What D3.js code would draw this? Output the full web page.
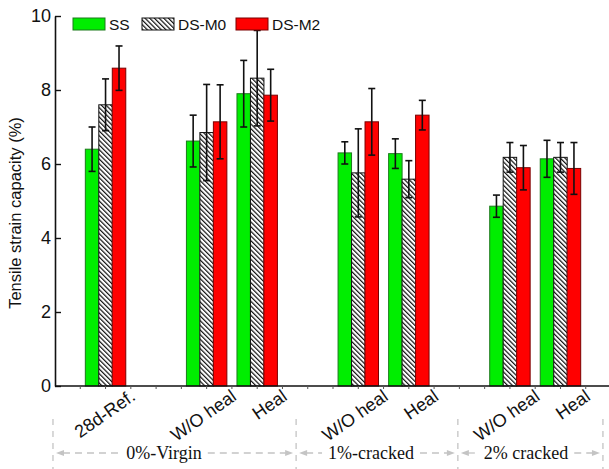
<!DOCTYPE html>
<html lang="en">
<head>
<meta charset="UTF-8">
<script src="https://cdnjs.cloudflare.com/ajax/libs/d3/7.8.5/d3.min.js"></script>
<style>
body { margin: 0; background: white; }
svg { display: block; font-family: "Liberation Sans", Arial, sans-serif; }
</style>
</head>
<body>
<script>
// categories and their slot positions along the x axis
var labels = ["28d-Ref.", "W/O heal", "Heal", "W/O heal", "Heal", "W/O heal", "Heal"];
var slots = [1, 3, 4, 6, 7, 9, 10];
var seriesNames = ["SS", "DS-M0", "DS-M2"];

var ss      = [6.40, 6.62, 7.90, 6.30, 6.28, 4.86, 6.14];
var ssErr   = [0.60, 0.70, 0.90, 0.30, 0.40, 0.30, 0.50];
var dsm0    = [7.60, 6.85, 8.32, 5.76, 5.59, 6.18, 6.18];
var dsm0Err = [0.70, 1.30, 1.29, 1.19, 0.50, 0.40, 0.40];
var dsm2    = [8.59, 7.14, 7.86, 7.14, 7.32, 5.90, 5.88];
var dsm2Err = [0.60, 1.00, 0.70, 0.90, 0.40, 0.60, 0.70];

var groupNames = ["0%-Virgin", "1%-cracked", "2% cracked"];
var yTicks = [0, 2, 4, 6, 8, 10];

var W = 609, H = 469;
var m = {left: 55, right: 609, top: 16, bottom: 386};

var x = d3.scaleLinear().domain([0, 10.96]).range([m.left, m.right]);
var y = d3.scaleLinear().domain([0, 10]).range([m.bottom, m.top]);

var svg = d3.select("body").append("svg")
  .attr("width", W).attr("height", H);

var defs = svg.append("defs");
defs.append("pattern")
  .attr("id", "hatch")
  .attr("patternUnits", "userSpaceOnUse")
  .attr("width", 3.3).attr("height", 3.3)
  .attr("patternTransform", "rotate(-45)")
  .append("rect")
  .attr("x", 0).attr("y", 0).attr("width", 1.2).attr("height", 3.3)
  .attr("fill", "#111");

var fills = ["#00ee00", "url(#hatch)", "#ff0000"];
var strokes = ["#1d7a1d", "#111", "#7a0000"];
var values = [ss, dsm0, dsm2];
var errs = [ssErr, dsm0Err, dsm2Err];

var slotW = x(1) - x(0);
var barW = slotW * 0.8 / 3;

// bars
values.forEach(function(vals, s) {
  var g = svg.append("g");
  g.selectAll("rect.bg")
    .data(vals)
    .enter().append("rect")
    .attr("x", (d, i) => x(slots[i]) - 1.5 * barW + s * barW)
    .attr("y", d => y(d))
    .attr("width", barW)
    .attr("height", d => y(0) - y(d))
    .attr("fill", "white");
  g.selectAll("rect.bar")
    .data(vals)
    .enter().append("rect")
    .attr("x", (d, i) => x(slots[i]) - 1.5 * barW + s * barW)
    .attr("y", d => y(d))
    .attr("width", barW)
    .attr("height", d => y(0) - y(d))
    .attr("fill", fills[s])
    .attr("stroke", strokes[s])
    .attr("stroke-width", 1);
});

// error bars
values.forEach(function(vals, s) {
  vals.forEach(function(v, i) {
    var cx = x(slots[i]) - 1.5 * barW + s * barW + barW / 2;
    var e = errs[s][i];
    var g = svg.append("g").attr("stroke", "#111").attr("stroke-width", 1.6);
    g.append("line").attr("x1", cx).attr("x2", cx).attr("y1", y(v + e)).attr("y2", y(v - e));
    g.append("line").attr("x1", cx - 3.5).attr("x2", cx + 3.5).attr("y1", y(v + e)).attr("y2", y(v + e));
    g.append("line").attr("x1", cx - 3.5).attr("x2", cx + 3.5).attr("y1", y(v - e)).attr("y2", y(v - e));
  });
});

// y axis
var yAxis = d3.axisLeft(y).tickValues(yTicks).tickSizeInner(-6).tickSizeOuter(0).tickPadding(4);
var ya = svg.append("g").attr("transform", "translate(" + m.left + ",0)").call(yAxis);
ya.select(".domain").attr("stroke", "#111").attr("stroke-width", 1.6);
ya.selectAll(".tick line").attr("stroke", "#111").attr("stroke-width", 1.4);
ya.selectAll(".tick text").attr("font-size", 18).attr("fill", "#111")
  .attr("font-family", "Liberation Sans, Arial, sans-serif");

// x axis
svg.append("line")
  .attr("x1", m.left).attr("x2", m.right).attr("y1", m.bottom).attr("y2", m.bottom)
  .attr("stroke", "#111").attr("stroke-width", 1.6);
svg.selectAll(".xtick")
  .data(d3.range(0.5, 11, 0.5))
  .enter().append("line")
  .attr("x1", d => x(d)).attr("x2", d => x(d))
  .attr("y1", m.bottom).attr("y2", m.bottom + 3)
  .attr("stroke", "#555").attr("stroke-width", 1);

svg.selectAll(".xlabel")
  .data(labels)
  .enter().append("text")
  .attr("transform", (d, i) => "translate(" + (x(slots[i]) + 31) + ",399) rotate(-35)")
  .attr("text-anchor", "end")
  .attr("font-size", 18)
  .attr("fill", "#111")
  .text(d => d);

// y label
svg.append("text")
  .attr("transform", "translate(21,213) rotate(-90)")
  .attr("text-anchor", "middle")
  .attr("font-size", 16.5)
  .attr("fill", "#111")
  .text("Tensile strain capacity (%)");

// legend
var legX = [73, 142, 236];
seriesNames.forEach(function(n, s) {
  svg.append("rect")
    .attr("x", legX[s]).attr("y", 18).attr("width", 32).attr("height", 12)
    .attr("fill", "white");
  svg.append("rect")
    .attr("x", legX[s]).attr("y", 18).attr("width", 32).attr("height", 12)
    .attr("fill", fills[s]).attr("stroke", strokes[s]).attr("stroke-width", 1);
  svg.append("text")
    .attr("x", legX[s] + 36).attr("y", 30)
    .attr("font-size", 15.5).attr("fill", "#111")
    .text(n);
});

// group brackets below the axis
var bounds = [-0.04, 4.77, 7.97, 10.84];
var textCx = [164, 371, 526];
var gray = "#c4c4c4";
var lineY = 453;

bounds.forEach(function(b) {
  svg.append("line")
    .attr("x1", x(b)).attr("x2", x(b)).attr("y1", 419).attr("y2", H)
    .attr("stroke", gray).attr("stroke-width", 1.3).attr("stroke-dasharray", "6,6");
});

groupNames.forEach(function(n, i) {
  var x0 = x(bounds[i]) + 3, x1 = x(bounds[i + 1]) - 3;
  var t = svg.append("text")
    .attr("x", textCx[i]).attr("y", 459)
    .attr("text-anchor", "middle")
    .attr("font-family", "Liberation Serif, Times New Roman, serif")
    .attr("font-size", 18)
    .attr("fill", "#111")
    .text(n);
  var bb = t.node().getBBox();
  svg.append("line")
    .attr("x1", x0 + 7).attr("x2", bb.x - 6).attr("y1", lineY).attr("y2", lineY)
    .attr("stroke", gray).attr("stroke-width", 1.3).attr("stroke-dasharray", "7,5");
  svg.append("line")
    .attr("x1", bb.x + bb.width + 6).attr("x2", x1 - 7).attr("y1", lineY).attr("y2", lineY)
    .attr("stroke", gray).attr("stroke-width", 1.3).attr("stroke-dasharray", "7,5");
  svg.append("path")
    .attr("d", "M" + x0 + "," + lineY + "l8,-3l0,6z")
    .attr("fill", gray);
  svg.append("path")
    .attr("d", "M" + x1 + "," + lineY + "l-8,-3l0,6z")
    .attr("fill", gray);
});
</script>
</body>
</html>
